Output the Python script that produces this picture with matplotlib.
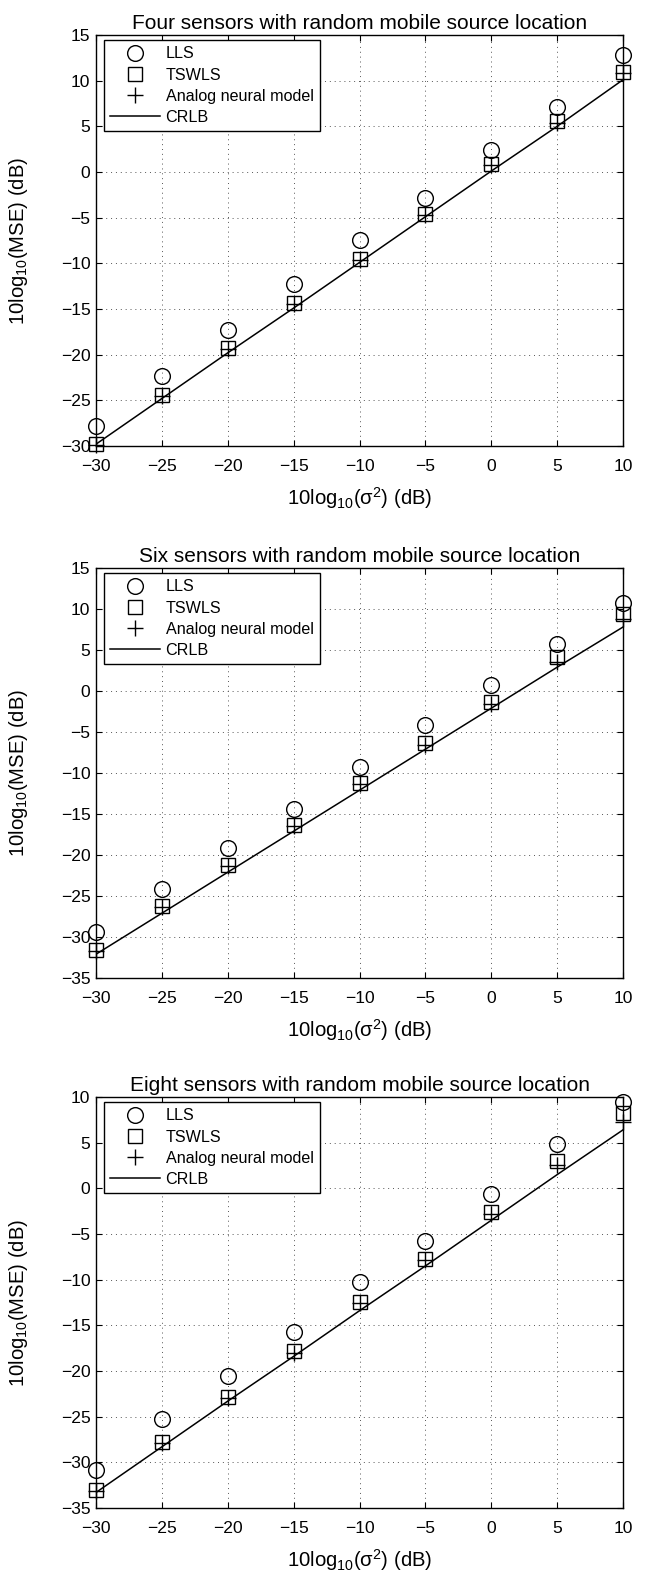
import matplotlib
matplotlib.use("Agg")
import matplotlib.pyplot as plt

plt.rcParams["font.family"] = ["Liberation Sans", "DejaVu Sans"]
plt.rcParams["mathtext.fontset"] = "custom"
plt.rcParams["mathtext.rm"] = "Liberation Sans"
plt.rcParams["mathtext.it"] = "Liberation Sans:italic"
plt.rcParams["mathtext.default"] = "regular"

# Noise variance (dB)
noise_db = [-30, -25, -20, -15, -10, -5, 0, 5, 10]

# Four sensors
four_lls = [-27.8, -22.3, -17.3, -12.3, -7.4, -2.8, 2.4, 7.1, 12.8]
four_tswls = [-29.8, -24.4, -19.3, -14.3, -9.5, -4.6, 0.9, 5.6, 11.0]
four_anm = [-29.9, -24.5, -19.4, -14.4, -9.6, -4.7, 0.8, 5.4, 10.8]
four_crlb = [-29.8, -24.8, -19.8, -14.9, -9.9, -4.9, 0.1, 5.0, 10.1]

# Six sensors
six_lls = [-29.4, -24.2, -19.2, -14.4, -9.3, -4.2, 0.7, 5.7, 10.7]
six_tswls = [-31.6, -26.2, -21.2, -16.3, -11.2, -6.4, -1.4, 4.1, 9.4]
six_anm = [-31.7, -26.4, -21.3, -16.5, -11.4, -6.6, -1.6, 3.5, 8.8]
six_crlb = [-32.1, -27.1, -22.1, -17.1, -12.1, -7.1, -2.1, 2.9, 7.8]

# Eight sensors
eight_lls = [-30.8, -25.3, -20.6, -15.7, -10.3, -5.8, -0.6, 4.8, 9.4]
eight_tswls = [-33.0, -27.8, -22.8, -17.8, -12.4, -7.7, -2.6, 3.0, 8.2]
eight_anm = [-33.1, -27.9, -23.0, -18.0, -12.6, -7.9, -2.8, 2.6, 7.3]
eight_crlb = [-33.3, -28.3, -23.3, -18.4, -13.4, -8.5, -3.5, 1.5, 6.4]

titles = ["Four sensors with random mobile source location",
          "Six sensors with random mobile source location",
          "Eight sensors with random mobile source location"]
series = [(four_lls, four_tswls, four_anm, four_crlb),
          (six_lls, six_tswls, six_anm, six_crlb),
          (eight_lls, eight_tswls, eight_anm, eight_crlb)]
ylims = [(-30, 15), (-35, 15), (-35, 10)]
xticks = [-30, -25, -20, -15, -10, -5, 0, 5, 10]

W, H = 646, 1572
fig = plt.figure(figsize=(W / 100, H / 100), dpi=100)

left, right = 96, 623
tops = [35, 568, 1097]
heights = [411, 410, 411]

for i in range(3):
    top = tops[i]
    h = heights[i]
    ax_w = right - left
    ax = fig.add_axes([left / W, 1 - (top + h) / H, ax_w / W, h / H])
    lls, tswls, anm, crlb = series[i]
    ax.plot(noise_db, lls, linestyle="none", marker="o", markersize=11.3,
            markerfacecolor="none", markeredgecolor="black", markeredgewidth=1.0,
            label="LLS", clip_on=False, zorder=3)
    ax.plot(noise_db, tswls, linestyle="none", marker="s", markersize=9.8,
            markerfacecolor="none", markeredgecolor="black", markeredgewidth=1.0,
            label="TSWLS", clip_on=False, zorder=3)
    ax.plot(noise_db, anm, linestyle="none", marker="+", markersize=11,
            markeredgecolor="black", markeredgewidth=1.0,
            label="Analog neural model", clip_on=False, zorder=3)
    ax.plot(noise_db, crlb, color="black", linewidth=1.1, label="CRLB",
            zorder=2)

    ymin, ymax = ylims[i]
    ax.set_xlim(-30, 10)
    ax.set_ylim(ymin, ymax)
    ax.set_xticks(xticks)
    ax.set_yticks(list(range(ymin, ymax + 1, 5)))
    ax.tick_params(direction="in", top=True, right=True, length=4,
                   width=0.8, labelsize=12.6)
    ax.tick_params(axis="x", pad=9.5)
    ax.tick_params(axis="y", pad=4)
    ax.grid(True, color="#555555", linestyle=(0, (1, 4)), linewidth=0.7)
    for sp in ax.spines.values():
        sp.set_linewidth(1.0)
        sp.set_color("black")

    ax.set_title(titles[i], fontsize=15, pad=4)
    ax.set_xlabel("10log$_{10}$(σ$^{2}$) (dB)", fontsize=14.6, labelpad=8)
    ax.set_ylabel("10log$_{10}$(MSE) (dB)", fontsize=14.6)
    ax.yaxis.set_label_coords(-66 / ax_w, 0.5)

    leg = ax.legend(loc="upper left",
                    bbox_to_anchor=(8 / ax_w, 1 - 5 / h),
                    borderaxespad=0.0, fontsize=11.6, frameon=True,
                    fancybox=False, edgecolor="black", framealpha=1,
                    handlelength=3.05, handletextpad=0.37, labelspacing=0.38,
                    borderpad=0.4)
    leg.get_frame().set_linewidth(1.0)

fig.savefig("out.png", dpi=100)
